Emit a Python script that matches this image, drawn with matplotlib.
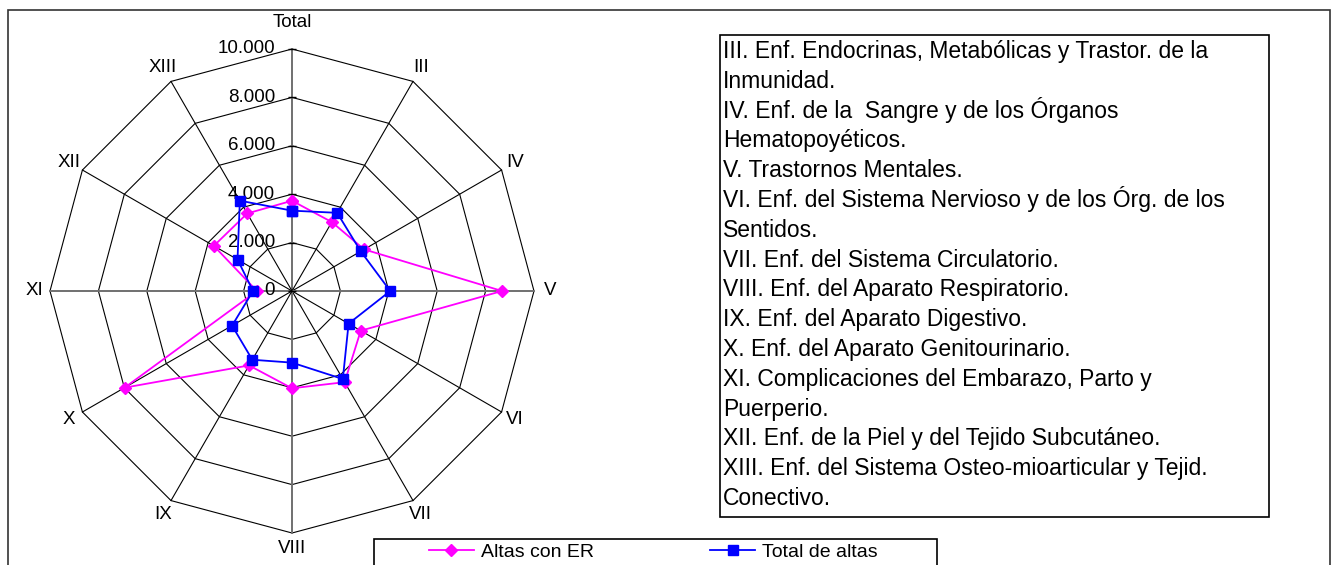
import numpy as np
import matplotlib.pyplot as plt
from matplotlib.patches import Rectangle

plt.rcParams['font.family'] = ['Liberation Sans', 'DejaVu Sans']

# Datos
categorias = ['Total', 'III', 'IV', 'V', 'VI', 'VII', 'VIII', 'IX', 'X', 'XI', 'XII', 'XIII']
altas_er = [3730, 3290, 3440, 8680, 3280, 4350, 4020, 3550, 7990, 1450, 3730, 3700]
total_altas = [3320, 3730, 3280, 4060, 2700, 4200, 2960, 3280, 2860, 1610, 2600, 4310]
anillos = [0, 2000, 4000, 6000, 8000, 10000]
etiquetas_anillos = ['0', '2.000', '4.000', '6.000', '8.000', '10.000']

leyenda_texto = [
    'III. Enf. Endocrinas, Metabólicas y Trastor. de la',
    'Inmunidad.',
    'IV. Enf. de la  Sangre y de los Órganos',
    'Hematopoyéticos.',
    'V. Trastornos Mentales.',
    'VI. Enf. del Sistema Nervioso y de los Órg. de los',
    'Sentidos.',
    'VII. Enf. del Sistema Circulatorio.',
    'VIII. Enf. del Aparato Respiratorio.',
    'IX. Enf. del Aparato Digestivo.',
    'X. Enf. del Aparato Genitourinario.',
    'XI. Complicaciones del Embarazo, Parto y',
    'Puerperio.',
    'XII. Enf. de la Piel y del Tejido Subcutáneo.',
    'XIII. Enf. del Sistema Osteo-mioarticular y Tejid.',
    'Conectivo.',
]

W, H = 1338, 565
fig = plt.figure(figsize=(W / 100, H / 100), dpi=100)

# ejes cuadrados centrados en (292, 291) px, 10000 = 242 px
cx, cy = 292, 291
lim = 11500
half = 242 * lim / 10000
ax = fig.add_axes([(cx - half) / W, 1 - (cy + half) / H, 2 * half / W, 2 * half / H])
ax.set_xlim(-lim, lim)
ax.set_ylim(-lim, lim)
ax.axis('off')

n = len(categorias)
ang = np.arange(n) * 2 * np.pi / n
ang_c = np.append(ang, ang[0])


def xy(vals):
    v = np.append(vals, vals[0])
    return v * np.sin(ang_c), v * np.cos(ang_c)


# rejilla poligonal
for r in anillos[1:]:
    gx, gy = xy(np.full(n, r))
    ax.plot(gx, gy, color='black', lw=0.8, zorder=1)
for i, a in enumerate(ang):
    if i % 3 == 0:
        ax.plot([0, 10000 * np.sin(a)], [0, 10000 * np.cos(a)], color='#707070', lw=1.4, zorder=1)
    else:
        ax.plot([0, 10000 * np.sin(a)], [0, 10000 * np.cos(a)], color='black', lw=0.8, zorder=1)

# marcas y etiquetas del eje de valores
ax.plot(np.zeros(len(anillos)), anillos, ls='none', marker='_', ms=6, color='black', zorder=2)
for r, t in zip(anillos, etiquetas_anillos):
    ax.text(-700, r, t, ha='right', va='center', fontsize=13.5)

# etiquetas de categorías
for i, (a, c) in enumerate(zip(ang, categorias)):
    rr = 11100 if i == 0 else 10650
    ax.text(rr * np.sin(a), rr * np.cos(a), c, ha='center', va='center', fontsize=13.5)

# series
ex, ey = xy(altas_er)
l1, = ax.plot(ex, ey, color='#FF00FF', lw=1.3, marker='D', ms=6.5, label='Altas con ER', zorder=3)
tx, ty = xy(total_altas)
l2, = ax.plot(tx, ty, color='#0000FF', lw=1.3, marker='s', ms=6.5, label='Total de altas', zorder=4)

# marco del gráfico
fig.add_artist(Rectangle((8 / W, -0.1), 1322 / W, 1.1 - 10 / H, transform=fig.transFigure,
                         fill=False, ec='#333333', lw=1.2))

# cuadro de texto
fig.add_artist(Rectangle((720 / W, 1 - 517 / H), 549 / W, 482 / H, transform=fig.transFigure,
                         fill=False, ec='black', lw=1.2))
for i, linea in enumerate(leyenda_texto):
    fig.text(723 / W, 1 - (58 + i * 29.8) / H, linea, ha='left', va='baseline', fontsize=16.5)

# leyenda
fig.add_artist(Rectangle((374 / W, -0.1), 563 / W, 0.1 + 1 - 539 / H, transform=fig.transFigure,
                         fill=False, ec='black', lw=1.2))
fig.legend(handles=[l1, l2], loc='upper left', bbox_to_anchor=(429 / W, 1 - 543 / H),
           ncol=2, frameon=False, fontsize=14, handlelength=2.3, handletextpad=0.35,
           columnspacing=6.0, borderpad=0, borderaxespad=0, numpoints=1)

fig.savefig('out.png', dpi=100)
